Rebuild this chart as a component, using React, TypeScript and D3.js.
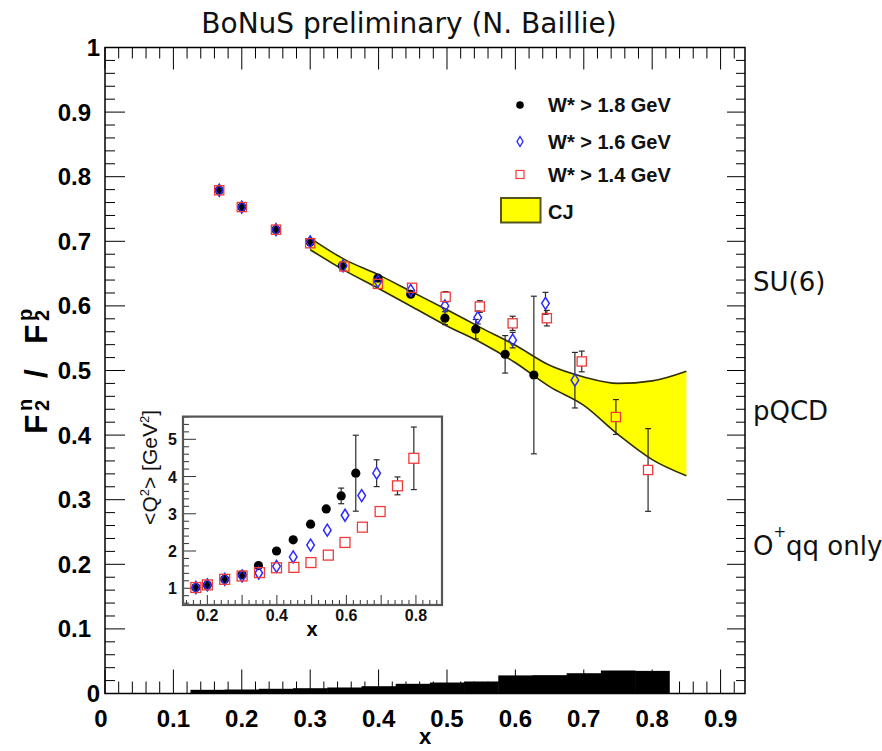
import React from 'react';
import * as d3 from 'd3';

const W = 882;
const H = 751;

// x positions of the three W* cut samples
const xW18 = [0.167, 0.2, 0.25, 0.3, 0.347, 0.399, 0.447, 0.497, 0.542, 0.585, 0.627];
const xW16 = [0.167, 0.2, 0.25, 0.3, 0.348, 0.399, 0.447, 0.497, 0.545, 0.596, 0.644, 0.687];
const xW14 = [0.167, 0.2, 0.25, 0.3, 0.35, 0.399, 0.449, 0.498, 0.548, 0.596, 0.646, 0.697, 0.747, 0.794];

// F2n/F2p ratio and its uncertainty
const ratioW18 = [0.779, 0.753, 0.718, 0.699, 0.662, 0.643, 0.618, 0.581, 0.564, 0.525, 0.493];
const ratioErrW18 = [0.004, 0.004, 0.004, 0.004, 0.005, 0.006, 0.007, 0.01, 0.015, 0.029, 0.122];
const ratioW16 = [0.779, 0.753, 0.718, 0.699, 0.662, 0.638, 0.624, 0.6, 0.582, 0.547, 0.604, 0.485];
const ratioErrW16 = [0.004, 0.004, 0.004, 0.004, 0.005, 0.006, 0.007, 0.008, 0.01, 0.012, 0.017, 0.043];
const ratioW14 = [0.779, 0.753, 0.718, 0.697, 0.661, 0.634, 0.628, 0.614, 0.599, 0.573, 0.581, 0.514, 0.428, 0.346];
const ratioErrW14 = [0.004, 0.004, 0.004, 0.004, 0.005, 0.006, 0.007, 0.008, 0.009, 0.011, 0.012, 0.016, 0.027, 0.064];

// mean Q^2 per bin [GeV^2]
const q2W18 = [1.02, 1.09, 1.24, 1.36, 1.61, 2.0, 2.3, 2.72, 3.13, 3.48, 4.09];
const q2ErrW18 = [0.02, 0.02, 0.02, 0.02, 0.03, 0.03, 0.04, 0.04, 0.05, 0.21, 1.02];
const q2W16 = [1.02, 1.09, 1.24, 1.33, 1.41, 1.59, 1.84, 2.16, 2.56, 2.96, 3.49, 4.09];
const q2ErrW16 = [0.02, 0.02, 0.02, 0.02, 0.03, 0.03, 0.03, 0.04, 0.04, 0.05, 0.06, 0.36];
const q2W14 = [1.02, 1.09, 1.24, 1.33, 1.42, 1.55, 1.56, 1.69, 1.89, 2.23, 2.64, 3.06, 3.75, 4.49];
const q2ErrW14 = [0.02, 0.02, 0.02, 0.02, 0.03, 0.03, 0.03, 0.03, 0.04, 0.04, 0.05, 0.06, 0.24, 0.84];

// CJ band
const cjX = [0.3, 0.35, 0.4, 0.45, 0.5, 0.55, 0.6, 0.65, 0.7, 0.75, 0.8, 0.85];
const cjHigh = [0.705, 0.672, 0.648, 0.621, 0.594, 0.566, 0.539, 0.508, 0.49, 0.48, 0.484, 0.499];
const cjLow = [0.687, 0.655, 0.627, 0.598, 0.569, 0.543, 0.512, 0.475, 0.446, 0.401, 0.362, 0.337];

// systematic uncertainty histogram
const sysCenters = [0.15, 0.2, 0.25, 0.3, 0.35, 0.4, 0.45, 0.5, 0.55, 0.6, 0.65, 0.7, 0.75, 0.8];
const sysHeights = [0.0057, 0.0062, 0.0073, 0.0082, 0.0093, 0.0113, 0.015, 0.017, 0.0186, 0.028, 0.0284, 0.0314, 0.0356, 0.035];
const sysWidth = 0.05;

// axis tick labels
const xTickLabels = ['0', '0.1', '0.2', '0.3', '0.4', '0.5', '0.6', '0.7', '0.8', '0.9'];
const yTickLabels = ['0', '0.1', '0.2', '0.3', '0.4', '0.5', '0.6', '0.7', '0.8', '0.9', '1'];
const insetXLabels = ['0.2', '0.4', '0.6', '0.8'];
const insetYLabels = ['1', '2', '3', '4', '5'];

// model predictions on the right
const modelLabels = [
  { name: 'SU(6)', pos: 0.639 },
  { name: 'pQCD', pos: 0.439 },
];
const diquarkPos = 0.23;

const legendEntries = ['W* > 1.8 GeV', 'W* > 1.6 GeV', 'W* > 1.4 GeV', 'CJ'];

const BOLD = '"Liberation Sans", Arial, Helvetica, sans-serif';
const SANS = '"DejaVu Sans", Verdana, sans-serif';

const BLUE = '#2b2bff';
const RED = '#f03a3a';

type Pt = { x: number; v: number; e: number };

function zip(xs: number[], vs: number[], es: number[]): Pt[] {
  return xs.map((x, i) => ({ x, v: vs[i], e: es[i] }));
}

function ErrorBars({ pts, xs, ys, gap, cap }: { pts: Pt[]; xs: any; ys: any; gap: number; cap: number }) {
  return (
    <g stroke="#2a2a2a" strokeWidth={1.2}>
      {pts.map((p, i) => {
        const cx = xs(p.x);
        const cy = ys(p.v);
        const top = ys(p.v + p.e);
        const bot = ys(p.v - p.e);
        const segs = [];
        if (cy - top > gap) {
          segs.push(<line key="t" x1={cx} x2={cx} y1={top} y2={cy - gap} />);
          segs.push(<line key="tc" x1={cx - cap} x2={cx + cap} y1={top} y2={top} />);
        }
        if (bot - cy > gap) {
          segs.push(<line key="b" x1={cx} x2={cx} y1={cy + gap} y2={bot} />);
          segs.push(<line key="bc" x1={cx - cap} x2={cx + cap} y1={bot} y2={bot} />);
        }
        return <g key={i}>{segs}</g>;
      })}
    </g>
  );
}

const diamond = (cx: number, cy: number, w: number, h: number) =>
  `M${cx},${cy - h} L${cx + w},${cy} L${cx},${cy + h} L${cx - w},${cy} Z`;

function Markers({ kind, pts, xs, ys, s = 1 }: { kind: string; pts: Pt[]; xs: any; ys: any; s?: number }) {
  return (
    <g>
      {pts.map((p, i) => {
        const cx = xs(p.x);
        const cy = ys(p.v);
        if (kind === 'circle') return <circle key={i} cx={cx} cy={cy} r={4.6 * s} fill="#000" />;
        if (kind === 'diamond')
          return <path key={i} d={diamond(cx, cy, 3.8 * s, 6 * s)} fill="none" stroke={BLUE} strokeWidth={1.5} />;
        return (
          <rect key={i} x={cx - 4.6 * s} y={cy - 4.6 * s} width={9.2 * s} height={9.2 * s} fill="none" stroke={RED} strokeWidth={1.3} />
        );
      })}
    </g>
  );
}

export default function App() {
  // main frame
  const x = d3.scaleLinear().domain([0, 0.9357]).range([105, 745]);
  const y = d3.scaleLinear().domain([0, 1]).range([693.5, 47.5]);

  const xMinor = d3.range(0, 47).map((i) => i * 0.02).filter((v) => v <= 0.9357);
  const yMinor = d3.range(0, 51).map((i) => i * 0.02);

  const r18 = zip(xW18, ratioW18, ratioErrW18);
  const r16 = zip(xW16, ratioW16, ratioErrW16);
  const r14 = zip(xW14, ratioW14, ratioErrW14);

  const band = cjX.map((xv, i) => ({ x: xv, lo: cjLow[i], hi: cjHigh[i] }));
  const area = d3
    .area<{ x: number; lo: number; hi: number }>()
    .x((d) => x(d.x))
    .y0((d) => y(d.lo))
    .y1((d) => y(d.hi))
    .curve(d3.curveMonotoneX);
  const upper = d3
    .line<{ x: number; lo: number; hi: number }>()
    .x((d) => x(d.x))
    .y((d) => y(d.hi))
    .curve(d3.curveMonotoneX);
  const lower = d3
    .line<{ x: number; lo: number; hi: number }>()
    .x((d) => x(d.x))
    .y((d) => y(d.lo))
    .curve(d3.curveMonotoneX);

  // inset
  const ix = d3.scaleLinear().domain([0.13, 0.875]).range([183, 442]);
  const iy = d3.scaleLinear().domain([0.55, 5.61]).range([605, 416.6]);
  const ixMinor = d3.range(7, 44).map((i) => i * 0.02).filter((v) => v >= 0.13 && v <= 0.875);
  const iyMinor = d3.range(3, 29).map((i) => i * 0.2);
  const q18 = zip(xW18, q2W18, q2ErrW18);
  const q16 = zip(xW16, q2W16, q2ErrW16);
  const q14 = zip(xW14, q2W14, q2ErrW14);

  const isMajor = (v: number, step: number) => Math.abs(v / step - Math.round(v / step)) < 1e-6;

  return (
    <svg width={W} height={H} style={{ position: 'absolute', left: 0, top: 0, background: '#fff' }}>
      <rect x={0} y={0} width={W} height={H} fill="#fff" />

      {/* title */}
      <text x={409} y={33} textAnchor="middle" fontFamily={SANS} fontSize={28} fill="#111">
        BoNuS preliminary (N. Baillie)
      </text>

      {/* systematic uncertainty */}
      <g fill="#000">
        {sysCenters.map((c, i) => (
          <rect
            key={i}
            x={x(c - sysWidth / 2)}
            width={x(c + sysWidth / 2) - x(c - sysWidth / 2) + 0.5}
            y={y(sysHeights[i])}
            height={y(0) - y(sysHeights[i])}
          />
        ))}
      </g>

      {/* CJ band */}
      <path d={area(band) || ''} fill="#ffff00" />
      <path d={upper(band) || ''} fill="none" stroke="#2f2f00" strokeWidth={1.6} />
      <path d={lower(band) || ''} fill="none" stroke="#2f2f00" strokeWidth={1.6} />

      {/* data */}
      <ErrorBars pts={r18} xs={x} ys={y} gap={4.6} cap={3} />
      <ErrorBars pts={r16} xs={x} ys={y} gap={6} cap={3} />
      <ErrorBars pts={r14} xs={x} ys={y} gap={4.6} cap={3} />
      <Markers kind="circle" pts={r18} xs={x} ys={y} />
      <Markers kind="diamond" pts={r16} xs={x} ys={y} />
      <Markers kind="square" pts={r14} xs={x} ys={y} />

      {/* frame and ticks */}
      <g stroke="#000" strokeWidth={1}>
        {xMinor.map((v, i) => {
          const len = isMajor(v, 0.1) ? 24 : 12;
          return (
            <g key={i}>
              <line x1={x(v)} x2={x(v)} y1={y(0)} y2={y(0) - len} />
              <line x1={x(v)} x2={x(v)} y1={y(1)} y2={y(1) + (isMajor(v, 0.1) ? 22 : 11)} />
            </g>
          );
        })}
        {yMinor.map((v, i) => {
          const len = isMajor(v, 0.1) ? 20 : 10;
          return (
            <g key={i}>
              <line x1={x(0)} x2={x(0) + len} y1={y(v)} y2={y(v)} />
              <line x1={745} x2={745 - (isMajor(v, 0.1) ? 18 : 9)} y1={y(v)} y2={y(v)} />
            </g>
          );
        })}
      </g>
      <rect x={105} y={y(1)} width={640} height={y(0) - y(1)} fill="none" stroke="#000" strokeWidth={1.5} />

      {/* tick labels */}
      <g fontFamily={BOLD} fontWeight="bold" fontSize={24} fill="#000">
        {xTickLabels.map((t) => (
          <text key={t} x={x(+t) + (t === '0' ? -4 : 0)} y={727} textAnchor="middle">
            {t}
          </text>
        ))}
        {yTickLabels.map((t) => (
          <text key={t} x={t.length === 1 ? 100 : 91} y={y(+t) + 8.5} textAnchor="end">
            {t}
          </text>
        ))}
      </g>

      {/* axis titles */}
      <text x={425} y={744} textAnchor="middle" fontFamily={BOLD} fontWeight="bold" fontSize={22}>
        x
      </text>
      <g transform="translate(47,362) rotate(-90)" fontFamily={BOLD} fontWeight="bold" fill="#000">
        <text x={-72} y={0} fontSize={32}>F</text>
        <text x={-49} y={2} fontSize={20}>2</text>
        <text x={-49} y={-15} fontSize={20}>n</text>
        <text x={-16} y={0} fontSize={32}>/</text>
        <text x={18} y={0} fontSize={32}>F</text>
        <text x={41} y={2} fontSize={20}>2</text>
        <text x={41} y={-15} fontSize={20}>p</text>
      </g>

      {/* model predictions */}
      <g fontFamily={SANS} fontSize={26} fill="#111">
        {modelLabels.map((m) => (
          <text key={m.name} x={753} y={y(m.pos) + 10}>
            {m.name}
          </text>
        ))}
        <text x={753} y={y(diquarkPos) + 10}>
          O
          <tspan fontSize={15} dy={-18}>+</tspan>
          <tspan dy={18}>qq only</tspan>
        </text>
      </g>

      {/* legend */}
      <g fontFamily={BOLD} fontWeight="bold" fontSize={20} fill="#111">
        <circle cx={520} cy={105} r={3.8} fill="#000" />
        <text x={548} y={112}>{legendEntries[0]}</text>
        <path d={diamond(520, 141.5, 3, 5)} fill="none" stroke={BLUE} strokeWidth={1.4} />
        <text x={548} y={148.5}>{legendEntries[1]}</text>
        <rect x={516} y={170.5} width={8} height={8} fill="none" stroke={RED} strokeWidth={1.2} />
        <text x={548} y={182}>{legendEntries[2]}</text>
        <rect x={501} y={198} width={39.5} height={24.5} fill="#ffff00" stroke="#555522" strokeWidth={2} />
        <text x={548} y={218.5}>{legendEntries[3]}</text>
      </g>

      {/* inset: mean Q^2 */}
      <g>
        <rect x={183} y={416.6} width={259} height={188.4} fill="#fff" />
        <g stroke="#333" strokeWidth={1}>
          {ixMinor.map((v, i) => {
            const len = isMajor(v, 0.1) ? 10 : 5;
            return <line key={i} x1={ix(v)} x2={ix(v)} y1={605} y2={605 - len} />;
          })}
          {iyMinor.map((v, i) => {
            const len = isMajor(v, 1) ? 13 : 6;
            return <line key={i} x1={183} x2={183 + len} y1={iy(v)} y2={iy(v)} />;
          })}
        </g>
        <ErrorBars pts={q18} xs={ix} ys={iy} gap={4.5} cap={3} />
        <ErrorBars pts={q16} xs={ix} ys={iy} gap={6} cap={3} />
        <ErrorBars pts={q14} xs={ix} ys={iy} gap={5} cap={3} />
        <Markers kind="circle" pts={q18} xs={ix} ys={iy} />
        <Markers kind="diamond" pts={q16} xs={ix} ys={iy} />
        <Markers kind="square" pts={q14} xs={ix} ys={iy} s={1.08} />
        <rect x={183} y={416.6} width={259} height={188.4} fill="none" stroke="#555" strokeWidth={2.2} />
        <g fontFamily={BOLD} fontWeight="bold" fontSize={16} fill="#111">
          {insetXLabels.map((t) => (
            <text key={t} x={ix(+t)} y={621} textAnchor="middle">
              {t}
            </text>
          ))}
          {insetYLabels.map((t) => (
            <text key={t} x={177} y={iy(+t) + 6} textAnchor="end">
              {t}
            </text>
          ))}
        </g>
        <text x={312} y={636} textAnchor="middle" fontFamily={BOLD} fontWeight="bold" fontSize={20}>
          x
        </text>
        <text
          transform="translate(157,410) rotate(-90)"
          textAnchor="end"
          fontFamily={BOLD}
          fontSize={21}
          fill="#111"
        >
          {'<Q'}
          <tspan fontSize={13} dy={-8}>2</tspan>
          <tspan dy={8}>{'> [GeV'}</tspan>
          <tspan fontSize={13} dy={-8}>2</tspan>
          <tspan dy={8}>]</tspan>
        </text>
      </g>
    </svg>
  );
}
